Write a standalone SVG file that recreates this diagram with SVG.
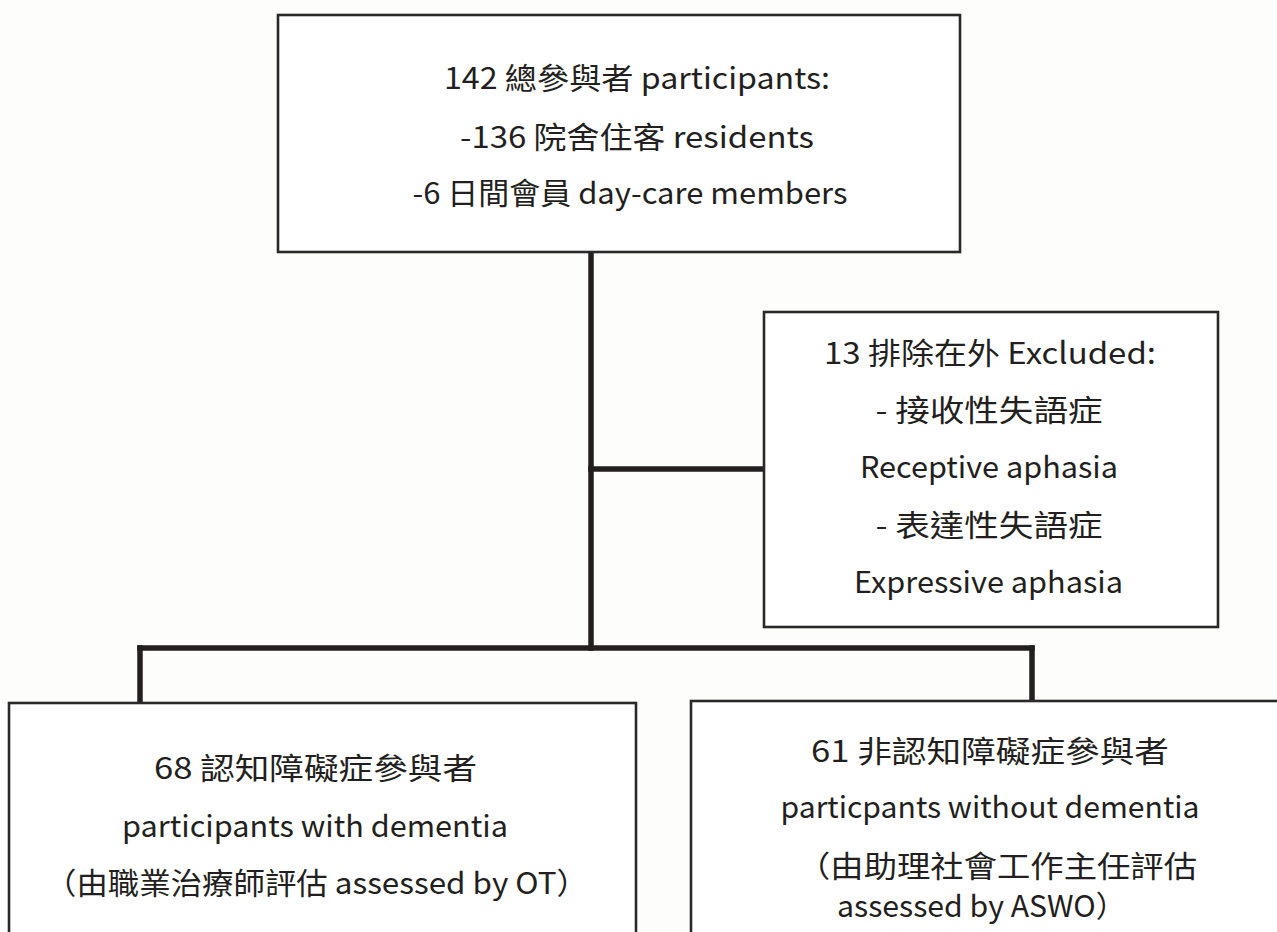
<svg xmlns="http://www.w3.org/2000/svg" width="1277" height="932" viewBox="0 0 1277 932">
<style>
.box{fill:#ffffff;stroke:#2a2829;stroke-width:2.6}
.conn{stroke:#231f20;stroke-width:5.5;fill:none;stroke-linecap:square}
text{font-family:"Noto Sans CJK TC","Noto Sans",sans-serif;font-size:30px;fill:#231f20;text-anchor:middle}
</style>
<rect x="0" y="0" width="1277" height="932" fill="#fdfdfb"/>
<g id="connectors">
<line class="conn" x1="591" y1="253" x2="591" y2="648"/>
<line class="conn" x1="591" y1="469" x2="764" y2="469"/>
<line class="conn" x1="140" y1="648" x2="1032" y2="648"/>
<line class="conn" x1="140" y1="648" x2="140" y2="702"/>
<line class="conn" x1="1032" y1="648" x2="1032" y2="700"/>
</g>
<g id="node-total">
<rect class="box" x="278" y="15" width="682" height="237"/>
<text x="637" y="89" textLength="386" lengthAdjust="spacingAndGlyphs">142 總參與者 participants:</text>
<text x="637" y="148" textLength="354" lengthAdjust="spacingAndGlyphs">-136 院舍住客 residents</text>
<text x="630" y="204" textLength="435" lengthAdjust="spacingAndGlyphs">-6 日間會員 day-care members</text>
</g>
<g id="node-excluded">
<rect class="box" x="764" y="312" width="454" height="315"/>
<text x="990" y="364" textLength="332" lengthAdjust="spacingAndGlyphs">13 排除在外 Excluded:</text>
<text x="989" y="421" textLength="227" lengthAdjust="spacingAndGlyphs">- 接收性失語症</text>
<text x="989" y="478" textLength="258" lengthAdjust="spacingAndGlyphs">Receptive aphasia</text>
<text x="989" y="536" textLength="227" lengthAdjust="spacingAndGlyphs">- 表達性失語症</text>
<text x="988.5" y="593" textLength="269" lengthAdjust="spacingAndGlyphs">Expressive aphasia</text>
</g>
<g id="node-dementia">
<rect class="box" x="9" y="703" width="627" height="240"/>
<text x="315.5" y="779" textLength="323" lengthAdjust="spacingAndGlyphs">68 認知障礙症參與者</text>
<text x="315" y="837" textLength="386" lengthAdjust="spacingAndGlyphs">participants with dementia</text>
<text x="316.5" y="894" textLength="543" lengthAdjust="spacingAndGlyphs">（由職業治療師評估 assessed by OT）</text>
</g>
<g id="node-nondementia">
<rect class="box" x="691" y="701" width="600" height="240"/>
<text x="990" y="762" textLength="358" lengthAdjust="spacingAndGlyphs">61 非認知障礙症參與者</text>
<text x="990" y="818" textLength="419" lengthAdjust="spacingAndGlyphs">particpants without dementia</text>
<text x="997" y="877" textLength="400" lengthAdjust="spacingAndGlyphs">（由助理社會工作主任評估</text>
<text x="981.5" y="917" textLength="289" lengthAdjust="spacingAndGlyphs">assessed by ASWO）</text>
</g>
</svg>
